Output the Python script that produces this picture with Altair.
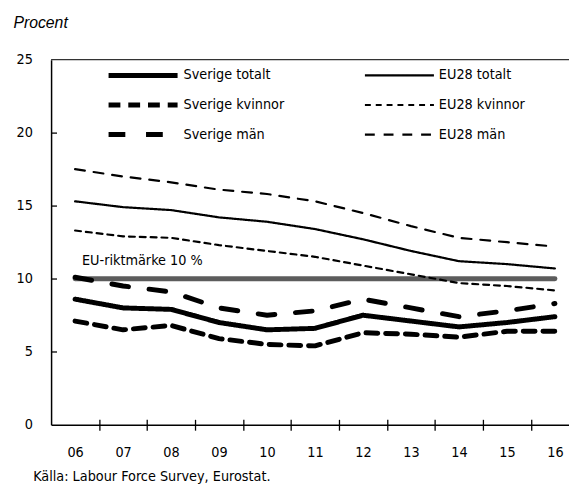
import altair as alt
import pandas as pd

# ---- data -------------------------------------------------------------
years = [6, 7, 8, 9, 10, 11, 12, 13, 14, 15, 16]
sverige_totalt = [8.6, 8.0, 7.9, 7.0, 6.5, 6.6, 7.5, 7.1, 6.7, 7.0, 7.4]
eu28_totalt = [15.3, 14.9, 14.7, 14.2, 13.9, 13.4, 12.7, 11.9, 11.2, 11.0, 10.7]
sverige_kvinnor = [7.1, 6.5, 6.8, 5.9, 5.5, 5.4, 6.3, 6.2, 6.0, 6.4, 6.4]
eu28_kvinnor = [13.3, 12.9, 12.8, 12.3, 11.9, 11.5, 10.9, 10.3, 9.7, 9.5, 9.2]
sverige_man = [10.1, 9.5, 9.1, 8.0, 7.5, 7.8, 8.6, 8.0, 7.4, 7.8, 8.3]
eu28_man = [17.5, 17.0, 16.6, 16.1, 15.8, 15.3, 14.5, 13.6, 12.8, 12.5, 12.2]

sv_names = ["Sverige totalt", "Sverige kvinnor", "Sverige män"]
sv_values = [sverige_totalt, sverige_kvinnor, sverige_man]
eu_names = ["EU28 totalt", "EU28 kvinnor", "EU28 män"]
eu_values = [eu28_totalt, eu28_kvinnor, eu28_man]

benchmark_value = 10
benchmark_label = "EU-riktmärke 10 %"
y_ticks = [0, 5, 10, 15, 20, 25]
source_text = "Källa: Labour Force Survey, Eurostat."
unit_text = "Procent"

# ---- styles -----------------------------------------------------------
sv_dashes = [[1, 0], [12, 8], [17, 21]]
eu_dashes = [[1, 0], [6, 5], [10, 9]]
SV_W = 5
EU_W = 2.2
FONT = "DejaVu Sans Condensed, sans-serif"
FS = 14.5


def long_df(names, values):
    rows = []
    for name, vals in zip(names, values):
        for yr, v in zip(years, vals):
            rows.append({"year": yr, "value": v, "serie": name})
    return pd.DataFrame(rows)


sv_df = long_df(sv_names, sv_values)
eu_df = long_df(eu_names, eu_values)

bench_df = pd.DataFrame({"year": years, "value": [benchmark_value] * len(years)})
bench_lbl_df = pd.DataFrame({"year": [years[0]], "value": [benchmark_value],
                             "text": [benchmark_label]})
top_df = pd.DataFrame({"v": [y_ticks[-1]]})

x_scale = alt.Scale(domain=[5.5, 16.293], nice=False, zero=False)
y_scale = alt.Scale(domain=[0, 25], nice=False, zero=True)


def make_legend(x, y, w):
    return alt.Legend(
        title=None, orient="none", legendX=x, legendY=y,
        direction="vertical", rowPadding=0, clipHeight=30,
        symbolType="stroke", symbolSize=4900, symbolStrokeColor="black",
        symbolStrokeWidth=w, labelFont=FONT, labelFontSize=FS,
        labelColor="black", labelOffset=3.5, padding=0,
    )


sv_lines = alt.Chart(sv_df).mark_line(
    color="black", strokeWidth=SV_W, strokeCap="round", strokeJoin="round"
).encode(
    x=alt.X("year:Q", scale=x_scale, axis=alt.Axis(
        orient="bottom", values=years,
        labelExpr="datum.value < 10 ? '0' + datum.value : '' + datum.value",
        ticks=False, tickSize=0, grid=False, domain=True, domainColor="black",
        domainWidth=1.5, labelFont=FONT, labelFontSize=FS, labelColor="black",
        labelBaseline="alphabetic", labelPadding=32, labelFlush=False,
        title=source_text, titleX=-18.7, titleY=56.5, titleAlign="left",
        titleBaseline="alphabetic", titleAngle=0, titleFont=FONT,
        titleFontSize=FS, titleFontWeight="normal", titleColor="black")),
    y=alt.Y("value:Q", scale=y_scale, axis=alt.Axis(
        orient="left", values=y_ticks, ticks=False, tickSize=0, grid=False,
        domain=True, domainColor="black", domainWidth=1.5, labelFont=FONT,
        labelFontSize=FS, labelColor="black", labelPadding=19,
        labelFlush=False,
        title=unit_text, titleAngle=0, titleX=-38.7, titleY=-33,
        titleAlign="left", titleBaseline="alphabetic",
        titleFont="Liberation Sans, Arial, sans-serif", titleFontStyle="italic",
        titleFontWeight="normal", titleFontSize=16, titleColor="black")),
    strokeDash=alt.StrokeDash("serie:N", sort=sv_names,
                              scale=alt.Scale(domain=sv_names, range=sv_dashes),
                              legend=make_legend(55.8, 1, SV_W)),
)

eu_lines = alt.Chart(eu_df).mark_line(
    color="black", strokeWidth=EU_W, strokeCap="round", strokeJoin="round"
).encode(
    x=alt.X("year:Q", scale=x_scale, axis=None),
    y=alt.Y("value:Q", scale=y_scale, axis=None),
    strokeDash=alt.StrokeDash("serie:N", sort=eu_names,
                              scale=alt.Scale(domain=eu_names, range=eu_dashes),
                              legend=make_legend(316.8, 1, EU_W)),
)

bench = alt.Chart(bench_df).mark_line(
    color="#5c5c5c", strokeWidth=5, strokeCap="round"
).encode(
    x=alt.X("year:Q", scale=x_scale, axis=alt.Axis(
        orient="bottom", values=[y + 0.5 for y in years[:-1]], labels=False,
        domain=False, grid=False, ticks=True, tickSize=11, tickColor="black",
        tickWidth=1.3, offset=-5.5, title=None)),
    y=alt.Y("value:Q", scale=y_scale, axis=alt.Axis(
        orient="left", values=y_ticks[1:-1], labels=False, domain=False,
        grid=False, ticks=True, tickSize=5.5, tickColor="black", tickWidth=1.3,
        offset=-5.5, title=None)),
)

bench_text = alt.Chart(bench_lbl_df).mark_text(
    align="left", baseline="alphabetic", dx=7, dy=-14, font=FONT,
    fontSize=FS, color="black"
).encode(
    x=alt.X("year:Q", scale=x_scale, axis=None),
    y=alt.Y("value:Q", scale=y_scale, axis=None),
    text="text:N",
)

top_rule = alt.Chart(top_df).mark_rule(color="#333333", strokeWidth=1.3).encode(
    y=alt.Y("v:Q", scale=y_scale, axis=None)
)

chart = alt.layer(top_rule, bench, bench_text, eu_lines, sv_lines).resolve_axis(
    x="independent", y="independent"
).resolve_scale(
    strokeDash="independent"
).resolve_legend(
    strokeDash="independent"
).properties(
    width=525.3, height=370.3,
    autosize=alt.AutoSizeParams(type="none"),
    padding={"left": 43.7, "top": 49, "right": 0, "bottom": 56.7},
).configure_view(stroke=None)

chart.save("out.html", embed_options={"renderer": "svg", "actions": False})
